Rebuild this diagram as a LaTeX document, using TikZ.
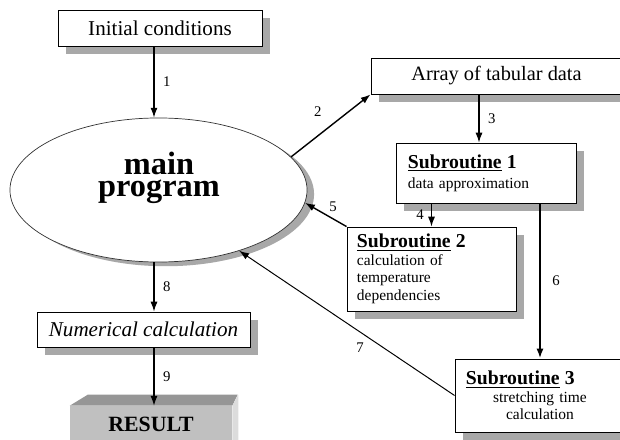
\documentclass[tikz,border=0pt]{standalone}
\usepackage{fontspec}
\setmainfont{Liberation Serif}
\usepackage{tikz}
\usetikzlibrary{shapes.geometric, arrows.meta, shadows}
\definecolor{shadegray}{RGB}{168,168,168}
\definecolor{resfront}{RGB}{192,192,192}
\definecolor{restop}{RGB}{150,150,150}
\definecolor{resside}{RGB}{220,220,220}
\newcommand{\subtitle}[1]{{\fontsize{14}{16}\selectfont\bfseries\underline{Subroutine}~#1}}

\begin{document}
\begin{tikzpicture}[
    x=0.025cm, y=-0.025cm,
    box/.style={rectangle, draw, line width=0.6pt, fill=white, inner sep=0pt,
                general shadow={fill=shadegray, shadow xshift=5.5pt, shadow yshift=-5.5pt}},
    sub/.style={box, align=left, font=\fontsize{11}{12.5}\selectfont},
    flow/.style={-{Latex[length=7pt,width=5pt]}, line width=0.9pt},
    lbl/.style={font=\fontsize{10.5}{12}\selectfont, inner sep=2pt}
]
    \useasboundingbox (0,0) rectangle (620,440);
    \clip (0,0) rectangle (620,440);
    \coordinate (axis) at (154,0);
    \coordinate (c3) at (479,0);

    % boxes
    \node[box, minimum width=5.1cm, minimum height=0.9cm,
          font=\fontsize{15}{18}\selectfont] (init) at (160,28) {Initial conditions};
    \node[ellipse, draw=black!80, line width=0.5pt, fill=white, inner sep=0pt,
          minimum width=7.425cm, minimum height=3.6cm,
          general shadow={fill=shadegray, shadow xshift=5pt, shadow yshift=-3pt}]
          (main) at (158.5,190) {};
    \node[align=center, inner sep=0pt, font=\fontsize{23}{15.5}\selectfont\bfseries]
          (maintxt) at (159,178) {main\\program};
    \node[box, minimum width=6.275cm, minimum height=0.9cm,
          font=\fontsize{14.5}{17}\selectfont] (array) at (496.5,76) {Array of tabular data};
    \node[sub, minimum width=4.5cm, minimum height=1.5cm, text width=3.9cm]
          (sub1) at (486,173) {\subtitle{1}\\[1.5pt] data approximation};
    \node[sub, minimum width=4.225cm, minimum height=2.1cm, text width=3.725cm]
          (sub2) at (431.5,269) {\subtitle{2}\\ calculation of\\ temperature\\ dependencies};
    \node[sub, align=center, minimum width=4.25cm, minimum height=1.825cm, text width=3.7cm]
          (sub3) at (540,395.5) {\makebox[3.7cm][l]{\subtitle{3}}\\ stretching time\\ calculation};
    \node[box, minimum width=5.325cm, minimum height=0.875cm,
          font=\fontsize{15}{18}\itshape\selectfont] (num) at (143.5,329.5) {Numerical calculation};

    % 3D result block
    \node[rectangle, fill=resfront, inner sep=0pt, minimum width=4.05cm, minimum height=0.925cm,
          font=\fontsize{15.5}{18}\bfseries\selectfont] (res) at (151,424.5) {RESULT};
    \fill[restop] (res.north west) -- ++(18,-11) -- ++(150,0) -- (res.north east) -- cycle;
    \fill[resside] (res.north east) -- ++(6,-11) -- ++(0,60) -- (res.south east) -- cycle;

    % connectors
    \draw[flow] (init.south -| axis) -- node[lbl, right=4pt] (n1) {1} (main.north -| axis);
    \draw[flow, line width=1pt] (main.14) -- node[lbl, above left=4pt] (n2) {2} (array.south west);
    \draw[flow] (array.south -| c3) -- node[lbl, right=4pt] (n3) {3} (sub1.north -| c3);
    \draw[flow] (sub1.south -| sub2.north) -- node[lbl, left=3pt] (n4) {4} (sub2.north);
    \draw[flow, line width=1pt] (sub2.north west) -- node[lbl, above right=0pt] (n5) {5} (main.-5);
    \draw[flow, line width=1.5pt] (sub1.south -| sub3.north) -- node[lbl, right=6pt] (n6) {6} (sub3.north);
    \draw[flow, line width=0.7pt] (sub3.west) -- node[lbl, pos=0.4, below left=1pt] (n7) {7} (main.-37);
    \draw[flow] (main.south -| axis) -- node[lbl, right=4pt] (n8) {8} (num.north -| axis);
    \draw[flow] (num.south -| axis) -- node[lbl, right=4pt] (n9) {9} (res.north -| axis);
\end{tikzpicture}
\end{document}
